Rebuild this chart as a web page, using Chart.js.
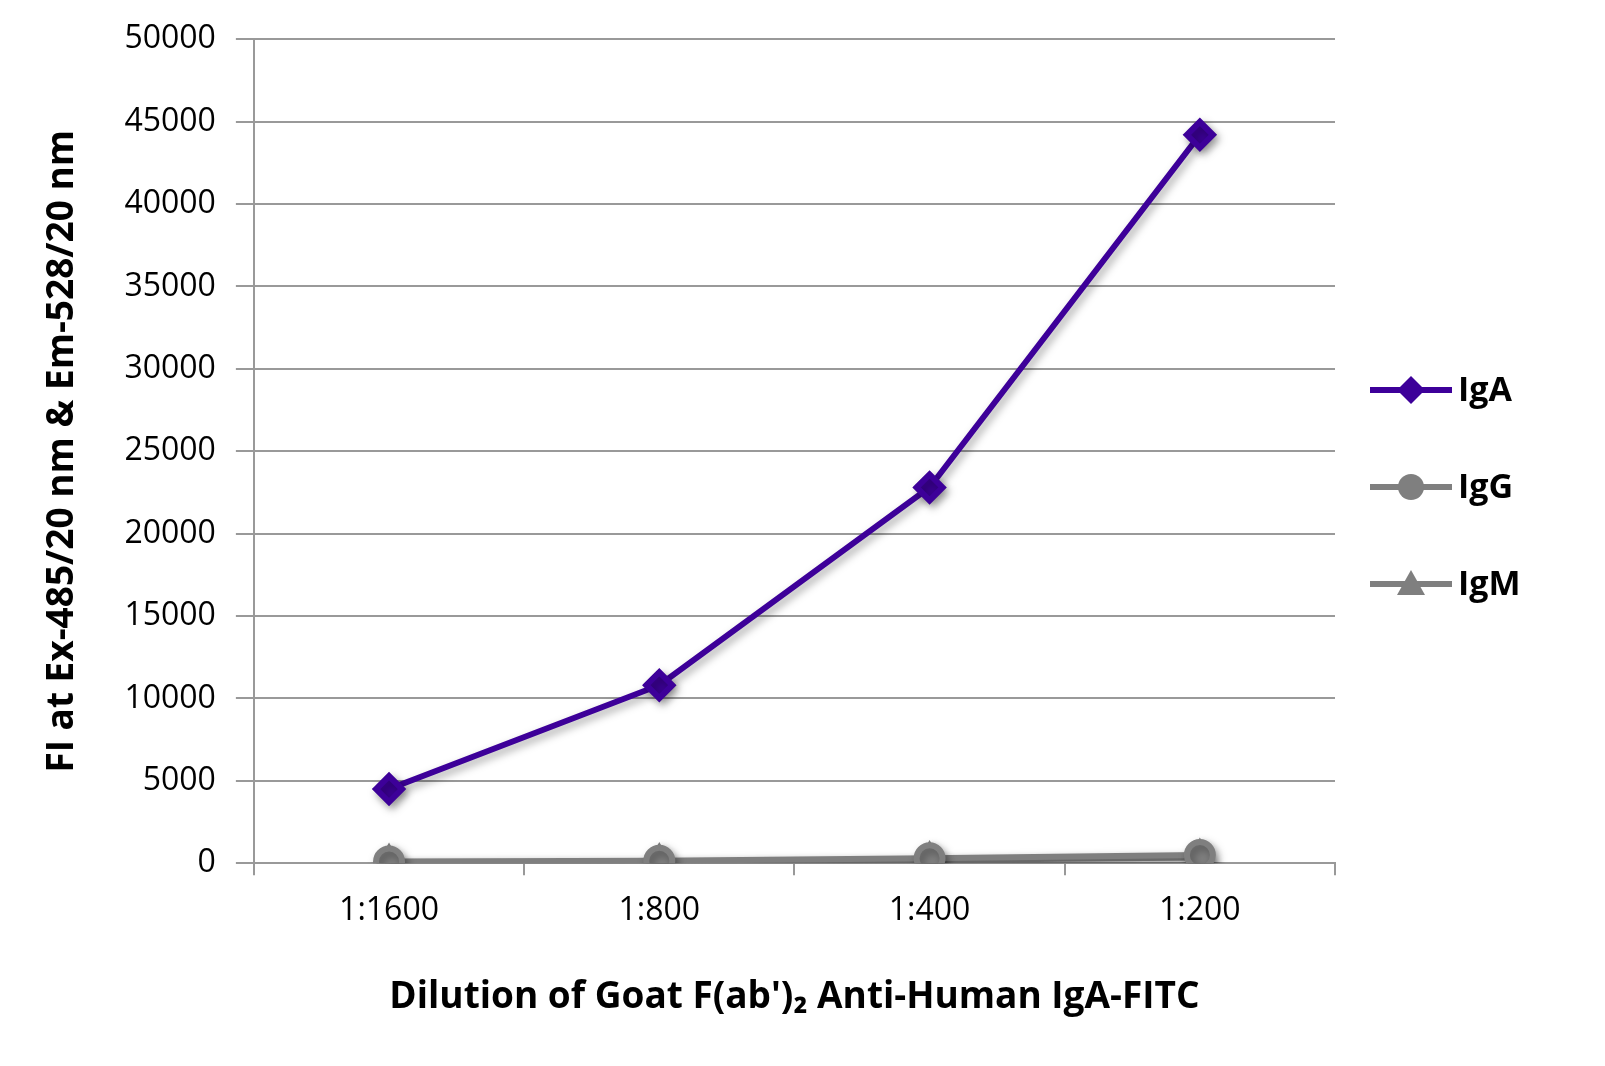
<!DOCTYPE html>
<html><head><meta charset="utf-8">
<script src="https://cdn.jsdelivr.net/npm/chart.js@4/dist/chart.umd.min.js"></script>
<style>html,body{margin:0;background:#fff}#w{width:1605px;height:1066px}</style></head>
<body><div id="w"><canvas id="c"></canvas></div>
<script>
const categories=["1:1600","1:800","1:400","1:200"];
const igA=[4500,10800,22800,44200];
const igG=[100,150,300,500];
const igM=[50,80,200,350];
const yTicks=[0,5000,10000,15000,20000,25000,30000,35000,40000,45000,50000];
const FONT='"Open Sans", "Liberation Sans", sans-serif';

const legendPlugin={id:'lg',afterDraw(ch){
  const c=ch.ctx;const x0=1370,x1=1452;
  ch.data.datasets.forEach((d,i)=>{
    const y=390+i*97;
    c.save();c.strokeStyle=d.borderColor;c.lineWidth=6;
    c.beginPath();c.moveTo(x0,y);c.lineTo(x1,y);c.stroke();
    c.fillStyle=d.backgroundColor;const xm=(x0+x1)/2;c.beginPath();
    if(d.pointStyle==='rectRot'){c.moveTo(xm,y-14);c.lineTo(xm+14,y);c.lineTo(xm,y+14);c.lineTo(xm-14,y);}
    else if(d.pointStyle==='circle'){c.arc(xm,y,13,0,Math.PI*2);}
    else {c.moveTo(xm,y-14);c.lineTo(xm+14,y+11);c.lineTo(xm-14,y+11);}
    c.closePath();c.fill();
    c.fillStyle='#000';c.font='bold 34px '+FONT;c.textBaseline='middle';
    c.fillText(d.label,x1+6,y+1);c.restore();
  });
}};
const shadow={id:'sh',beforeDatasetsDraw(ch){ch.ctx.save();ch.ctx.shadowColor='rgba(0,0,0,0.35)';ch.ctx.shadowBlur=8;ch.ctx.shadowOffsetX=3;ch.ctx.shadowOffsetY=4;},afterDatasetsDraw(ch){ch.ctx.restore();}};

new Chart(document.getElementById('c'),{
  type:'line',
  data:{labels:categories,datasets:[
    {label:'IgA',data:igA,borderColor:'#3d0099',backgroundColor:'#3d0099',pointStyle:'rectRot',pointRadius:13,borderWidth:6},
    {label:'IgG',data:igG,borderColor:'#7f7f7f',backgroundColor:'#7f7f7f',pointStyle:'circle',pointRadius:13,borderWidth:6},
    {label:'IgM',data:igM,borderColor:'#7f7f7f',backgroundColor:'#7f7f7f',pointStyle:'triangle',pointRadius:14,borderWidth:6}
  ]},
  options:{responsive:true,maintainAspectRatio:false,animation:false,
    layout:{padding:{top:36,right:270,bottom:42,left:36}},
    plugins:{legend:{display:false},tooltip:{enabled:false}},
    scales:{
      x:{offset:true,grid:{display:true,drawOnChartArea:false,offset:true,tickLength:12,color:'#999',lineWidth:2},
        border:{color:'#999',width:2},
        ticks:{color:'#000',font:{family:FONT,size:32},padding:16},
        title:{display:true,text:"Dilution of Goat F(ab')₂ Anti-Human IgA-FITC",color:'#000',font:{family:FONT,size:37,weight:'bold'},padding:{top:30}}},
      y:{min:0,max:50000,afterBuildTicks(a){a.ticks=yTicks.map(v=>({value:v}));},
        grid:{color:'#999',lineWidth:2,tickLength:18},
        border:{color:'#999',width:2},
        ticks:{color:'#000',font:{family:FONT,size:32},padding:20,callback:v=>String(v)},
        title:{display:true,text:'FI at Ex-485/20 nm & Em-528/20 nm',color:'#000',font:{family:FONT,size:37,weight:'bold'},padding:{bottom:20}}}
    }},
  plugins:[shadow,legendPlugin]
});
</script></body></html>
